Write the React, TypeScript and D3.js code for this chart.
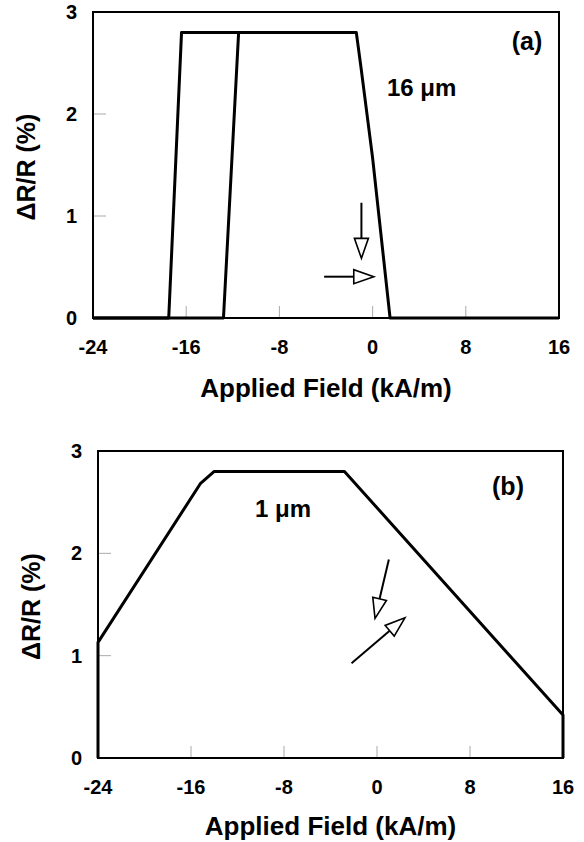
import React from 'react'
import * as d3 from 'd3'

// axes
const fieldTicks = [-24, -16, -8, 0, 8, 16]
const drTicks = [0, 1, 2, 3]

// panel (a) 16 um : two branches of the loop
const aDownField = [16, 1.5, 0, -1.0, -1.4, -16.4, -17.5, -24]
const aDownDR = [0, 0, 1.57, 2.46, 2.8, 2.8, 0, 0]
const aUpField = [-24, -12.8, -11.5, -1.4]
const aUpDR = [0, 0, 2.8, 2.8]

// panel (b) 1 um
const bField = [-24, -24, -15.2, -14.0, -2.8, 16, 16]
const bDR = [0, 1.13, 2.68, 2.8, 2.8, 0.42, 0]

// arrows: [x0, y0, x1, y1] in data units (tip at x1,y1)
const aArrows = [
  [-0.96, 1.13, -0.96, 0.585],
  [-4.16, 0.405, 0.1, 0.405],
]
const bArrows = [
  [1.02, 1.94, -0.17, 1.365],
  [-2.19, 0.926, 2.4, 1.37],
]

const font = '"Liberation Sans", Arial, Helvetica, sans-serif'

type Box = { left: number; right: number; top: number; bottom: number; titleY: number }

function zip(xs: number[], ys: number[]) {
  return xs.map((x, i) => [x, ys[i]] as [number, number])
}

function Panel(props: {
  box: Box
  series: [number, number][][]
  arrows: number[][]
  tag: string
  tagX: number
  tagY: number
  label: string
  labelX: number
  labelY: number
}) {
  const { box } = props
  const x = d3.scaleLinear().domain([-24, 16]).range([box.left, box.right])
  const y = d3.scaleLinear().domain([0, 3]).range([box.bottom, box.top])
  const line = d3
    .line<[number, number]>()
    .x(d => x(d[0]))
    .y(d => y(d[1]))

  const arrow = (a: number[], i: number) => {
    const x0 = x(a[0]), y0 = y(a[1]), x1 = x(a[2]), y1 = y(a[3])
    const len = Math.hypot(x1 - x0, y1 - y0)
    const ux = (x1 - x0) / len, uy = (y1 - y0) / len
    const bx = x1 - ux * 20, by = y1 - uy * 20
    const nx = -uy * 7, ny = ux * 7
    return (
      <g key={i}>
        <line x1={x0} y1={y0} x2={bx} y2={by} stroke="#000" strokeWidth={2} />
        <path
          d={`M${x1},${y1}L${bx + nx},${by + ny}L${bx - nx},${by - ny}Z`}
          fill="#fff"
          stroke="#000"
          strokeWidth={1.6}
        />
      </g>
    )
  }

  const midY = (box.top + box.bottom) / 2
  return (
    <g fontFamily={font} fontWeight="bold" fill="#000">
      {/* short grey ticks inside the frame */}
      {fieldTicks.slice(1, -1).map(t => (
        <line key={'x' + t} x1={x(t)} x2={x(t)} y1={box.bottom} y2={box.bottom - 12} stroke="#aaa" strokeWidth={1} />
      ))}
      {drTicks.slice(1, -1).map(t => (
        <line key={'y' + t} x1={box.left} x2={box.left + 13} y1={y(t)} y2={y(t)} stroke="#aaa" strokeWidth={1} />
      ))}
      <rect
        x={box.left}
        y={box.top}
        width={box.right - box.left}
        height={box.bottom - box.top}
        fill="none"
        stroke="#000"
        strokeWidth={2}
      />
      {props.series.map((s, i) => (
        <path key={i} d={line(s) || ''} fill="none" stroke="#000" strokeWidth={3} strokeLinejoin="round" />
      ))}
      {props.arrows.map(arrow)}
      {fieldTicks.map(t => (
        <text key={'xl' + t} x={x(t)} y={box.bottom + 36} textAnchor="middle" fontSize={20}>
          {t}
        </text>
      ))}
      {drTicks.map(t => (
        <text key={'yl' + t} x={box.left - 16} y={y(t) + 7} textAnchor="end" fontSize={20}>
          {t}
        </text>
      ))}
      <text x={(box.left + box.right) / 2} y={box.titleY} textAnchor="middle" fontSize={26}>
        Applied Field (kA/m)
      </text>
      <text
        transform={`translate(${box.left - 58},${midY + 2}) rotate(-90)`}
        textAnchor="middle"
        fontSize={25}
      >
        ΔR/R (%)
      </text>
      <text x={props.tagX} y={props.tagY} textAnchor="middle" fontSize={25}>
        {props.tag}
      </text>
      <text x={props.labelX} y={props.labelY} fontSize={24}>
        {props.label}
      </text>
    </g>
  )
}

export default function App() {
  const boxA: Box = { left: 93, right: 559, top: 12, bottom: 318, titleY: 397 }
  const boxB: Box = { left: 98, right: 563, top: 451, bottom: 758, titleY: 835 }
  return (
    <svg
      width={584}
      height={842}
      style={{ position: 'absolute', left: 0, top: 0, background: '#fff' }}
    >
      <Panel
        box={boxA}
        series={[zip(aDownField, aDownDR), zip(aUpField, aUpDR)]}
        arrows={aArrows}
        tag="(a)"
        tagX={527}
        tagY={50}
        label="16 μm"
        labelX={387}
        labelY={96}
      />
      <Panel
        box={boxB}
        series={[zip(bField, bDR)]}
        arrows={bArrows}
        tag="(b)"
        tagX={508}
        tagY={495}
        label="1 μm"
        labelX={255}
        labelY={517}
      />
    </svg>
  )
}
